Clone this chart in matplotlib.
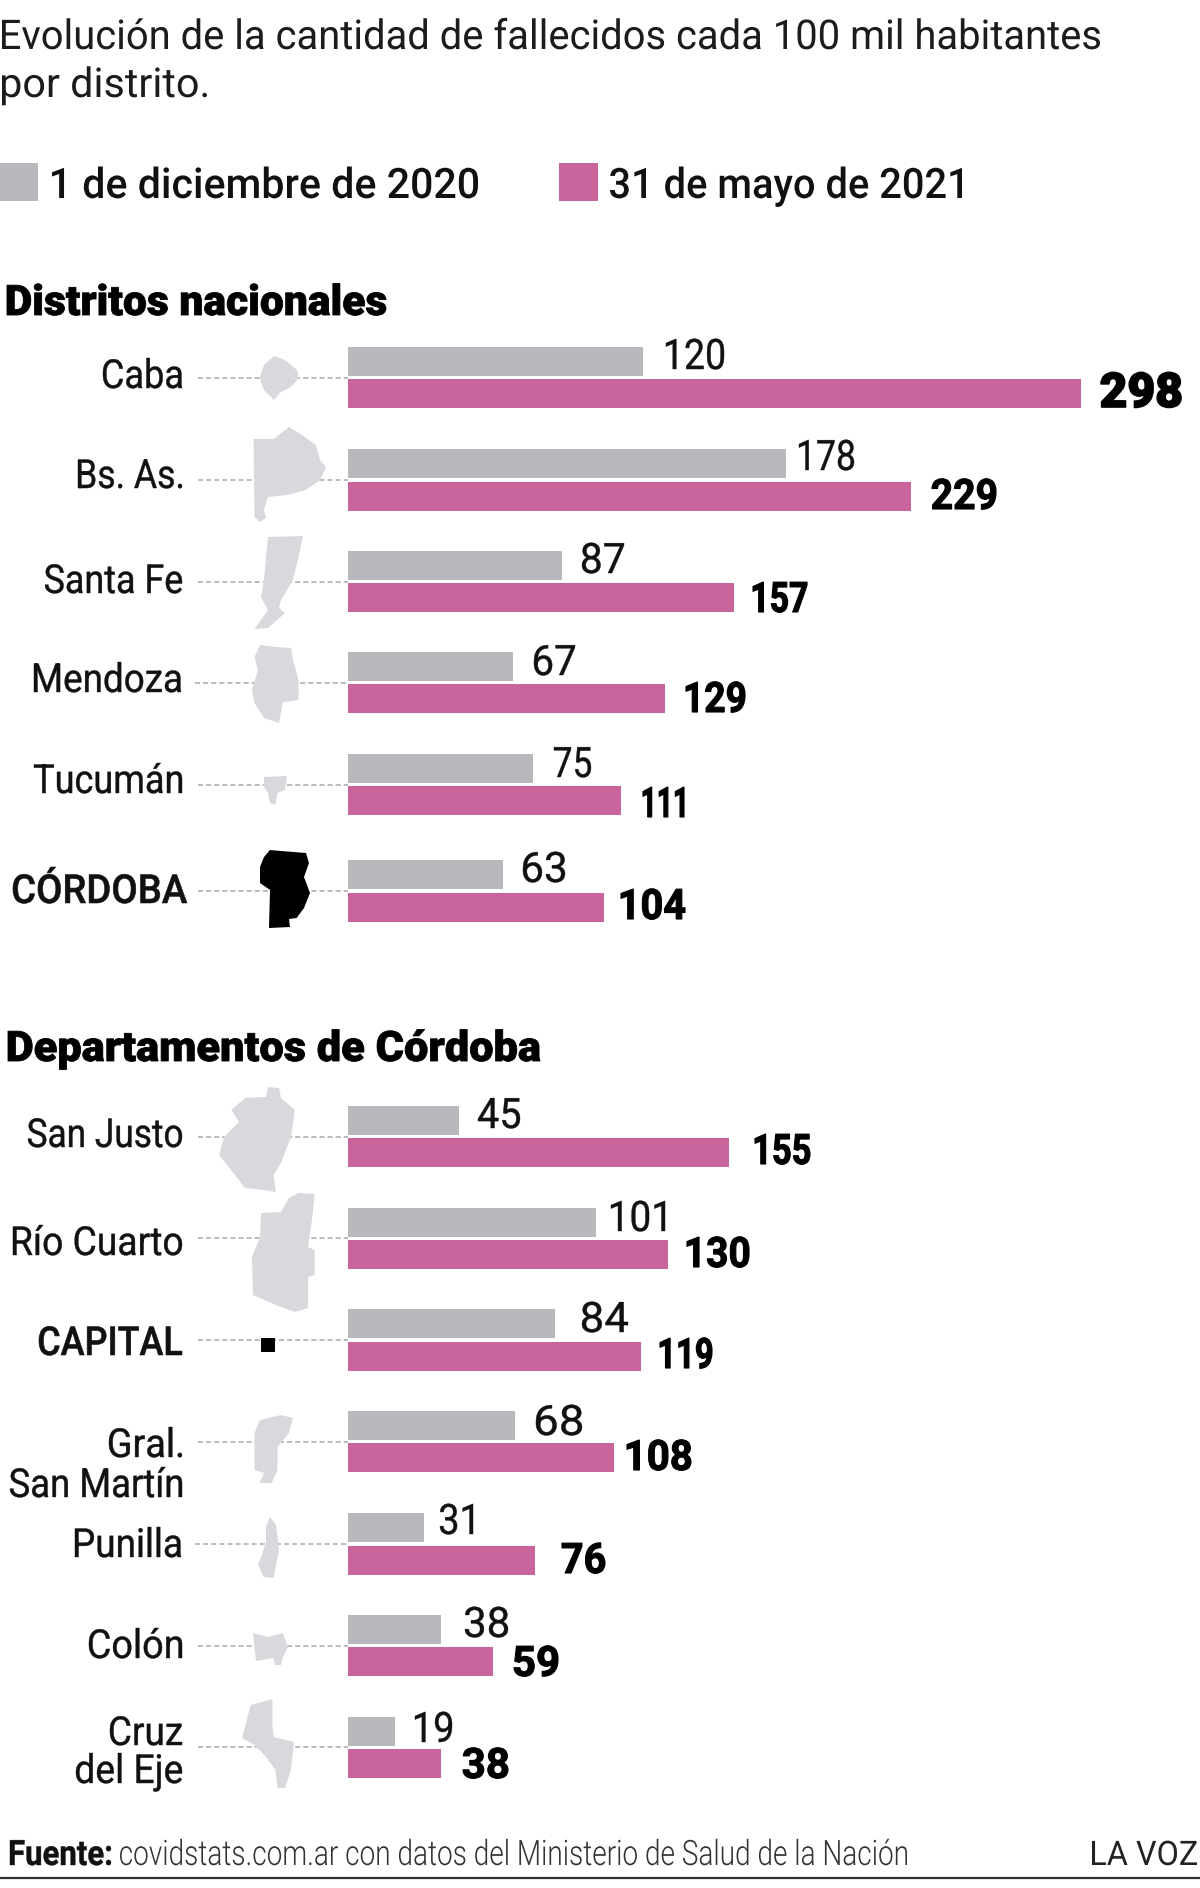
import matplotlib
matplotlib.use('Agg')
import matplotlib.pyplot as plt
from matplotlib.patches import Polygon, Rectangle
from matplotlib.patheffects import AbstractPathEffect
from matplotlib.transforms import Affine2D

FUENTE = ['Roboto', 'Noto Sans', 'DejaVu Sans']

GRIS = '#b7b8bc'
ROSA = '#c9649d'
MAPA = '#d8d9dd'

# datos
distritos = ['Caba', 'Bs. As.', 'Santa Fe', 'Mendoza', 'Tucumán', 'CÓRDOBA']
dist_dic = [120, 178, 87, 67, 75, 63]
dist_may = [298, 229, 157, 129, 111, 104]

departamentos = ['San Justo', 'Río Cuarto', 'CAPITAL', 'Gral. San Martín', 'Punilla', 'Colón', 'Cruz del Eje']
dep_dic = [45, 101, 84, 68, 31, 38, 19]
dep_may = [155, 130, 119, 108, 76, 59, 38]

categorias = distritos + departamentos
valores_dic = dist_dic + dep_dic
valores_may = dist_may + dep_may

# ubicacion de cada fila, en pixeles desde arriba
centro_fila = [377.5, 480, 581.7, 682.7, 784.7, 891, 1136.7, 1238.3, 1340, 1441.7, 1544, 1645.7, 1747.3]
inicio_punteada = [198, 198, 198, 195, 198, 198, 198, 198, 198, 198, 195, 198, 198]

# renglones de cada etiqueta: (texto, izquierda, derecha, base)
etiquetas = [
    [('Caba', 103, 182, 388)],
    [('Bs. As.', 78, 182, 488)],
    [('Santa Fe', 45, 182, 593)],
    [('Mendoza', 34, 181, 692)],
    [('Tucumán', 34, 182, 793)],
    [('CÓRDOBA', 13, 187, 903)],
    [('San Justo', 28, 182, 1147)],
    [('Río Cuarto', 13, 182, 1255)],
    [('CAPITAL', 39, 182, 1355)],
    [('Gral.', 109, 182, 1457), ('San Martín', 10, 182, 1497)],
    [('Punilla', 75, 181, 1557)],
    [('Colón', 89, 182, 1658)],
    [('Cruz', 110, 182, 1745), ('del Eje', 76, 182, 1783)],
]

# numeros: izquierda, derecha y base de cada uno
num_dic = [(666, 724, 369), (799, 854, 470), (582, 624, 573), (534, 575, 675), (554, 591, 777), (523, 565, 882),
           (478, 520, 1128), (611, 665, 1231), (582, 628, 1332), (536, 582, 1435), (440, 473, 1534), (465, 508, 1637), (415, 452, 1742)]
num_may = [(1101, 1181, 407), (932, 996, 509), (753, 807, 612), (686, 745, 712), (643, 684, 817), (621, 685, 919),
           (755, 810, 1164), (687, 749, 1267), (660, 712, 1368), (627, 691, 1470), (562, 605, 1573), (514, 558, 1676), (463, 508, 1778)]

# siluetas de las provincias y departamentos
siluetas = [
    [(274,356),(285,360),(297,370),(299,378),(291,387),(281,392),(274,400),(264,390),(259.5,378),(264,365)],
    [(289,427),(302,435),(316,445),(320,460),(326,467),(320,480),(306,490),(287,495),(268,497),(264,510),(266,518),(260,522),(254.5,517),(253.5,439),(274,439)],
    [(268,537),(303,536),(298.5,557),(293,580),(281,600),(279,608),(285,613),(268,628),(254.5,629),(268,610),(261,597),(264,580),(266,557)],
    [(260,645),(275.5,647),(291,648),(293,660),(298.5,680),(298.5,700),(283,702),(279,723),(264,718),(254.5,703),(252,690),(258,670),(254.5,657)],
    [(264,777),(287,776),(285,790),(277.5,793),(275.5,805),(270,803),(268,793),(264,787)],
    [(270,850),(281,851),(306,853),(309,863),(304,877),(310,893),(304,908),(296.6,918),(289,919),(290,927),(269,928),(270,890),(260,883),(260,867),(264,857)],
    [(268,1087),(279,1088),(281,1098),(295,1110),(291,1137),(281,1163),(273.6,1175),(276,1192),(264,1190),(245,1188),(233.5,1173),(219,1155),(224,1137),(239,1122),(231.5,1110),(245,1098),(266,1097)],
    [(298.5,1193),(314.6,1194),(312,1220),(308,1247),(314.6,1250),(314.6,1275),(308,1277),(308,1308),(295,1312),(275.5,1305),(253,1295),(252,1257),(260,1237),(261,1213),(281,1212),(289,1198)],
    [(261,1338),(275,1338),(275,1352),(261,1352)],
    [(260,1420),(281,1415),(293,1418),(289,1433),(277.5,1447),(277.5,1470),(271.7,1483),(259.5,1483),(264,1473),(254.5,1470),(254.5,1433)],
    [(270,1517),(276,1525),(279,1550),(273.6,1578),(264,1577),(258,1565),(266,1543),(266,1527)],
    [(253,1633),(268,1637),(283,1633),(288,1647),(283,1657),(281,1665),(275,1665),(273.6,1658),(256,1661),(254.5,1647)],
    [(272.5,1699),(272.5,1727),(273.6,1737),(294,1742),(291,1770),(285,1788),(277.5,1788),(275.5,1770),(266,1757),(254.5,1745),(242,1738),(250.7,1705)],
]
en_negro = ['CÓRDOBA', 'CAPITAL']

W, H = 1200, 1888
PX_POR_UNIDAD = 2.46
X0 = 348
ALTO = 29


class Ajuste(AbstractPathEffect):
    """Lleva el texto de x_izq a x_der; alto estira en vertical desde la base."""

    def __init__(self, x_izq, x_der, base, grueso=0, alto=1):
        super().__init__()
        self.x_izq = x_izq
        self.x_der = x_der
        self.base = H - base
        self.grueso = grueso
        self.alto = alto

    def draw_path(self, renderer, gc, tpath, affine, rgbFace=None):
        caja = tpath.get_extents(affine)
        f = (self.x_der - self.x_izq) / caja.width
        t = (affine + Affine2D().translate(-caja.x0, -self.base)
             .scale(f, self.alto).translate(self.x_izq, self.base))
        if self.grueso:
            gc0 = renderer.new_gc()
            gc0.copy_properties(gc)
            gc0.set_linewidth(self.grueso)
            gc0.set_foreground(rgbFace)
            renderer.draw_path(gc0, tpath, t, rgbFace)
            gc0.restore()
        else:
            renderer.draw_path(gc, tpath, t, rgbFace)


fig = plt.figure(figsize=(W / 100, H / 100), dpi=100)

# capa de pixeles para textos y siluetas
ax = fig.add_axes([0, 0, 1, 1])
ax.set_xlim(0, W)
ax.set_ylim(H, 0)
ax.axis('off')

# barras: eje x en las unidades de la tasa
ax_b = fig.add_axes([0, 0, 1, 1])
ax_b.set_xlim(-X0 / PX_POR_UNIDAD, (W - X0) / PX_POR_UNIDAD)
ax_b.set_ylim(H, 0)
ax_b.axis('off')
ax_b.patch.set_alpha(0)
ax_b.barh([c - 16.3 for c in centro_fila], valores_dic, height=ALTO, color=GRIS)
ax_b.barh([c + 16 for c in centro_fila], valores_may, height=ALTO, color=ROSA)


def texto(s, x_izq, x_der, base, px, peso='normal', grueso=0, color='#111111', alto=1):
    t = ax.text(x_izq, base, s, fontsize=px * 0.72, fontweight=peso, family=FUENTE, ha='left', va='baseline', color=color)
    t.set_path_effects([Ajuste(x_izq, x_der, base, grueso, alto)])
    return t


# encabezado
texto('Evolución de la cantidad de fallecidos cada 100 mil habitantes', 2, 1100, 49, 41, color='#1c1c1c')
texto('por distrito.', 2, 207, 97, 41, color='#1c1c1c')

ax.add_patch(Rectangle((0, 163), 38, 38, color=GRIS, lw=0))
texto('1 de diciembre de 2020', 52, 478, 198, 42, peso=500)
ax.add_patch(Rectangle((559, 163), 39, 38, color=ROSA, lw=0))
texto('31 de mayo de 2021', 610, 962, 198, 42, peso=500)

texto('Distritos nacionales', 7, 386, 315, 42, peso=900, grueso=0.6, color='#000000')
texto('Departamentos de Córdoba', 8, 540, 1061, 42, peso=900, grueso=0.6, color='#000000')

for i, nombre in enumerate(categorias):
    c = centro_fila[i]
    # linea punteada de la etiqueta a la barra
    ax.plot([inicio_punteada[i], X0], [c, c], color='#a8a8a8', lw=1.1, dashes=(3.3, 2), zorder=1)
    negro = nombre in en_negro
    ax.add_patch(Polygon(siluetas[i], closed=True, color='#000000' if negro else MAPA, lw=0, zorder=2))

    for s, x1, x2, b in etiquetas[i]:
        texto(s, x1, x2, b, 40, peso=500 if negro else 'normal', grueso=0.4 if negro else 0.3)

    x1, x2, b = num_dic[i]
    texto(str(valores_dic[i]), x1, x2, b, 42, grueso=0.3)
    x1, x2, b = num_may[i]
    if valores_may[i] == 298:
        texto(str(valores_may[i]), x1, x2, b, 48, peso=900, grueso=1.2, color='#000000')
    else:
        texto(str(valores_may[i]), x1, x2, b, 42, peso='bold', grueso=0.8, color='#000000')

# pie
texto('Fuente:', 10, 111, 1865, 35, peso='bold', grueso=0.3)
texto('covidstats.com.ar con datos del Ministerio de Salud de la Nación', 120, 907, 1865, 25, peso=300, color='#333333', alto=1.4)
texto('LA VOZ', 1092, 1197, 1865, 28, color='#222222', alto=1.21)
ax.plot([0, W], [1878, 1878], color='#333333', lw=1.6)

fig.savefig('out.png', dpi=100)
